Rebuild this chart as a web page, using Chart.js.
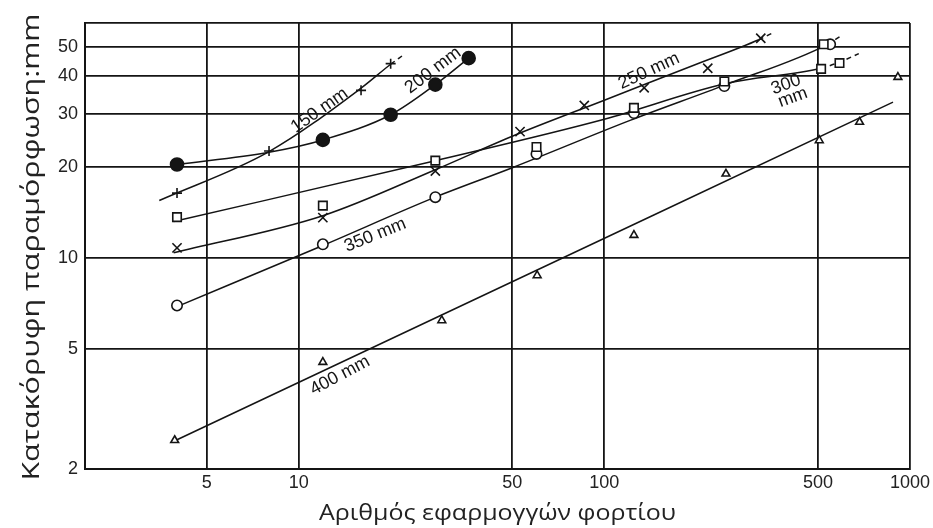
<!DOCTYPE html>
<html>
<head>
<meta charset="utf-8">
<script src="https://cdn.jsdelivr.net/npm/chart.js@4/dist/chart.umd.min.js"></script>
<style>
  html, body { margin: 0; padding: 0; background: #ffffff; }
  #wrap { width: 933px; height: 528px; }
</style>
</head>
<body>
<div id="wrap"><canvas id="c"></canvas></div>
<script>
// Axis ticks (log-log grid)
const xTicks = [2, 5, 10, 50, 100, 500, 1000];
const xTickLabels = ['', '5', '10', '50', '100', '500', '1000'];
const yTicks = [2, 5, 10, 20, 30, 40, 50, 60];
const yTickLabels = ['2', '5', '10', '20', '30', '40', '50', ''];

// 150 mm: measured points (+) and fitted curve
const m150X = [4, 8, 16, 20];
const m150Y = [16.4, 22.6, 35.9, 44];
const f150X = [3.5, 8, 16, 20, 22];
const f150Y = [15.5, 22.5, 36.5, 43.8, 47];

// 200 mm: measured points (filled dots) and fitted curve
const m200X = [4, 12, 20, 28, 36];
const m200Y = [20.4, 24.6, 29.8, 37.5, 45.9];
const f200X = [4, 8, 12, 20, 28, 36];
const f200Y = [20.4, 22.4, 24.6, 29.8, 37.5, 45.9];

// 250 mm: measured points (x) and fitted curve
const m250X = [4, 12, 28, 53, 86, 135, 218, 325];
const m250Y = [10.8, 13.6, 19.4, 26.2, 32, 36.6, 42.5, 53.4];
const f250X = [3.9, 12, 28, 50, 100, 200, 320, 360];
const f250Y = [10.4, 13.8, 19.6, 25.3, 33.3, 43.8, 52.8, 56];

// 300 mm: measured points (squares) and fitted curve
const m300X = [4, 12, 28, 60, 125, 247, 512, 588, 522];
const m300Y = [13.65, 14.9, 21, 23.3, 31.4, 38.4, 42.3, 44.2, 51];
const f300X = [3.9, 28, 100, 250, 512, 588, 680];
const f300Y = [13.2, 21, 28.8, 37.8, 42.5, 44.5, 47.5];

// 350 mm: measured points (open circles) and fitted curve
const m350X = [4, 12, 28, 60, 125, 247, 548];
const m350Y = [6.96, 11.1, 15.9, 22.1, 30.2, 37.1, 51];
const f350X = [4, 12, 28, 50, 122, 250, 538, 588];
const f350Y = [6.9, 11, 15.9, 19.9, 28.6, 37.5, 51, 54];

// 400 mm: measured points (triangles) and fitted straight line
const m400X = [3.93, 12, 29.4, 60.3, 125, 250, 505, 684, 913];
const m400Y = [2.49, 4.52, 6.21, 8.75, 11.9, 19.0, 24.5, 28.2, 39.7];
const f400X = [4, 880];
const f400Y = [2.5, 32.8];

// Curve captions
const captionText = ['150 mm', '200 mm', '250 mm', '300', 'mm', '350 mm', '400 mm'];
const captionX = [11.7, 27.5, 140, 393, 414, 17.8, 13.66];
const captionY = [30.8, 41.8, 41.6, 37.5, 34.0, 11.9, 4.08];
const captionAngle = [-35, -37, -25, -20, -20, -22, -28];

const xTitle = 'Αριθμός εφαρμογγών φορτίου';
const yTitle = 'Κατακόρυφη παραμόρφωση:mm';

const INK = '#141414';
const zip = (xs, ys) => xs.map((x, i) => ({ x: x, y: ys[i] }));

function curve(xs, ys, dashFrom) {
  return {
    data: zip(xs, ys),
    showLine: true,
    pointRadius: 0,
    pointHoverRadius: 0,
    borderColor: INK,
    borderWidth: 1.5,
    cubicInterpolationMode: 'monotone',
    segment: {
      borderDash: ctx => (dashFrom !== undefined && ctx.p0DataIndex >= dashFrom) ? [5, 4] : undefined
    },
    order: 2
  };
}

function markers(xs, ys, style, radius, fill) {
  return {
    data: zip(xs, ys),
    showLine: false,
    pointStyle: style,
    pointRadius: radius,
    pointHoverRadius: radius,
    pointBorderColor: INK,
    pointBackgroundColor: fill,
    pointBorderWidth: 1.6,
    order: 1
  };
}

const captionPlugin = {
  id: 'captions',
  afterDatasetsDraw(chart) {
    const ctx = chart.ctx;
    const xs = chart.scales.x, ys = chart.scales.y;
    ctx.save();
    ctx.fillStyle = INK;
    ctx.font = '18px "Liberation Sans", Arial, sans-serif';
    ctx.textAlign = 'center';
    ctx.textBaseline = 'middle';
    captionText.forEach((t, i) => {
      const px = xs.getPixelForValue(captionX[i]);
      const py = ys.getPixelForValue(captionY[i]);
      ctx.save();
      ctx.translate(px, py);
      ctx.rotate(captionAngle[i] * Math.PI / 180);
      ctx.fillText(t, 0, 0);
      ctx.restore();
    });
    ctx.restore();
  }
};

// Axis titles, fitted to the plot span
const titlePlugin = {
  id: 'axisTitles',
  afterDraw(chart) {
    const ctx = chart.ctx;
    const a = chart.chartArea;
    const put = (text, cx, cy, angle, font, width) => {
      ctx.save();
      ctx.font = font;
      ctx.fillStyle = '#222';
      ctx.textAlign = 'center';
      ctx.textBaseline = 'middle';
      const w = ctx.measureText(text).width;
      ctx.translate(cx, cy);
      ctx.rotate(angle);
      ctx.scale(width / w, 1);
      ctx.fillText(text, 0, 0);
      ctx.restore();
    };
    put(xTitle, (a.left + a.right) / 2, a.bottom + 45, 0, '22px "Open Sans", sans-serif', 357);
    put(yTitle, 32, (a.top + a.bottom) / 2 + 1, -Math.PI / 2, '23px "Open Sans", sans-serif', 467);
  }
};

const tickFont = { family: '"Liberation Sans", Arial, sans-serif', size: 18 };

new Chart(document.getElementById('c'), {
  type: 'scatter',
  data: {
    datasets: [
      curve(f150X, f150Y, 3),
      curve(f200X, f200Y),
      curve(f250X, f250Y, 6),
      curve(f300X, f300Y, 4),
      curve(f350X, f350Y, 6),
      curve(f400X, f400Y),
      markers(m150X, m150Y, 'cross', 5, INK),
      markers(m200X, m200Y, 'circle', 6.5, INK),
      markers(m250X, m250Y, 'crossRot', 6.5, INK),
      markers(m300X, m300Y, 'rect', 6, '#fff'),
      markers(m350X, m350Y, 'circle', 5.2, '#fff'),
      markers(m400X, m400Y, 'triangle', 4.5, '#fff')
    ]
  },
  options: {
    responsive: true,
    maintainAspectRatio: false,
    animation: false,
    events: [],
    layout: { padding: { left: 0, right: 23, top: 23, bottom: 0 } },
    plugins: { legend: { display: false }, tooltip: { enabled: false } },
    scales: {
      x: {
        type: 'logarithmic',
        min: 2,
        max: 1000,
        afterBuildTicks: s => { s.ticks = xTicks.map(v => ({ value: v })); },
        afterFit: s => { s.height = 59; },
        ticks: {
          autoSkip: false,
          maxRotation: 0,
          padding: 3,
          color: '#222',
          font: tickFont,
          callback: (v, i) => xTickLabels[i]
        },
        grid: { color: INK, lineWidth: 1.8, drawTicks: false },
        border: { color: INK, width: 2 }
      },
      y: {
        type: 'logarithmic',
        min: 2,
        max: 60,
        afterBuildTicks: s => { s.ticks = yTicks.map(v => ({ value: v })); },
        afterFit: s => { s.width = 85; },
        ticks: {
          autoSkip: false,
          padding: 7,
          color: '#222',
          font: tickFont,
          callback: (v, i) => yTickLabels[i]
        },
        grid: { color: INK, lineWidth: 1.8, drawTicks: false },
        border: { color: INK, width: 2 }
      }
    }
  },
  plugins: [captionPlugin, titlePlugin]
});
</script>
</body>
</html>
